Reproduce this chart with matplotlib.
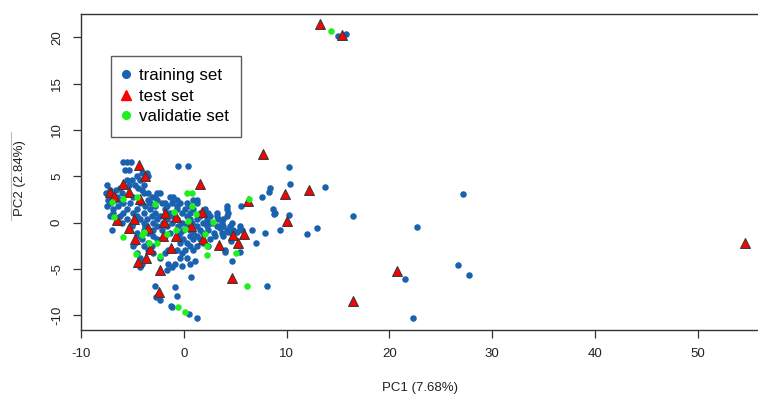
import matplotlib
matplotlib.use("Agg")
import matplotlib.pyplot as plt
from matplotlib.lines import Line2D

plt.rcParams['font.family'] = ['Liberation Sans', 'DejaVu Sans']

# ---------------- data (PC1, PC2) ----------------
train_x = [
    -5.93, -5.48, -5.16,
    -0.52, 0.36,
    10.25,
    -5.71, -5.29,
    -4.09, -3.60,
    -4.57, -3.44,
    -5.54, -5.06, -4.25,
    10.34,
    -7.43, -5.29, -4.73, -3.92,
    8.40, -6.19, -4.41,
    -7.17, -6.58, -4.09,
    8.30,
    -7.56, -6.03, -3.92, -3.44, -2.63, -2.30,
    7.65, -7.00, -6.52, -4.90, -3.11, -2.79, -1.33, -1.01,
    -7.33, -6.68, -6.19, -3.44, -2.63, -1.01, -0.68, 0.94, 1.26,
    -7.17, -5.87, -5.22, -4.25, -3.27, -2.14, -1.82, -1.17, -0.36, 0.29, 1.26,
    -7.49, -6.36, -3.76, -2.79, -1.65, -0.68, 0.62, 4.18, 5.58,
    8.66, -6.84, -5.54, -4.57, -3.27, -1.82, -0.68, 0.13, 0.94, 2.08, 4.18,
    8.88, -6.84, -5.87, -4.90, -3.92, -2.79, -1.33, -0.19, 0.62, 1.59, 2.40, 3.21, 4.29, 8.73,
    10.28,
    -7.17, -6.19, -4.57, -3.11, -2.30, -1.01, 0.29, 1.59, 2.56, 3.21, 4.18,
    -6.52, -5.54, -4.25, -3.60, -2.63, -1.65, -0.68, 0.62, 1.26, 2.24, 3.37, 3.86,
    -6.03, -4.90, -3.92, -2.95, -1.98, -1.17, -0.19, 0.78, 1.91, 2.72, 3.70, 4.67, 2.40,
    -5.06, -3.76, -2.63, -1.65, -0.52, 0.29, 1.26, 2.24, 3.21, 3.86, 4.51, 5.48, 3.54,
    -7.00, -3.92, -2.95, -2.14, -0.03, 0.62, 1.59, 2.40, 4.18, 4.83, 5.64, 6.61, 9.31, 5.42,
    7.94, -4.57, -3.44, -1.33, -0.36, 0.94, 1.91, 2.89, 3.70, 4.67, 4.29, 5.17,
    -4.25, -2.95, -1.82, -0.52, 0.62, 1.26, 3.05, 3.86,
    -4.09, -2.63, -0.03, 0.94, 1.59, 2.56, 4.61,
    7.00, -4.73, -3.44, -0.36, 0.29, 1.91,
    -4.90, -3.92, -3.11, 0.62, 1.26, 2.40,
    3.96, -3.44, -1.49, -0.68, 0.13, 0.94, 5.42, 4.03,
    -4.57, -2.95, -1.82, -0.19,
    -4.25, -2.30, -0.36, 0.29, 1.10,
    4.67,
    -4.09, -1.49, -0.84, 0.62, -0.18,
    -4.25, -1.17, -1.64,
    0.71,
    -2.79, 8.07,
    -0.84,
    -0.62,
    -2.69, -2.30,
    -1.23, -1.18,
    0.47,
    1.26,
    13.75, 12.03, 12.95, 16.45, 22.64, 21.47, 22.25, 27.15, 26.69, 27.76,
    15.00, 15.80,
]
train_y = [
    6.59, 6.59, 6.59,
    6.12, 6.12,
    5.98,
    5.69, 5.69,
    5.33, 5.33,
    5.03, 5.03,
    4.61, 4.61, 4.61,
    4.14,
    4.07, 4.07, 4.07, 4.07,
    3.71, 3.71, 3.71,
    3.53, 3.53, 3.53,
    3.35,
    3.17, 3.17, 3.17, 3.17, 3.17, 3.17,
    2.81, 2.81, 2.81, 2.81, 2.81, 2.81, 2.81, 2.81,
    2.45, 2.45, 2.45, 2.45, 2.45, 2.45, 2.45, 2.45, 2.45,
    2.09, 2.09, 2.09, 2.09, 2.09, 2.09, 2.09, 2.09, 2.09, 2.09, 2.09,
    1.80, 1.80, 1.80, 1.80, 1.80, 1.80, 1.80, 1.80, 1.80,
    1.44, 1.44, 1.44, 1.44, 1.44, 1.44, 1.44, 1.44, 1.44, 1.44, 1.44,
    1.08, 1.08, 1.08, 1.08, 1.08, 1.08, 1.08, 1.08, 1.08, 1.08, 1.08, 1.08, 1.00, 0.93,
    0.83,
    0.72, 0.72, 0.72, 0.72, 0.72, 0.72, 0.72, 0.72, 0.72, 0.72, 0.72,
    0.36, 0.36, 0.36, 0.36, 0.36, 0.36, 0.36, 0.36, 0.36, 0.36, 0.36, 0.36,
    0.00, 0.00, 0.00, 0.00, 0.00, 0.00, 0.00, 0.00, 0.00, 0.00, 0.00, 0.00, 0.00,
    -0.36, -0.36, -0.36, -0.36, -0.36, -0.36, -0.36, -0.36, -0.36, -0.36, -0.36, -0.36, -0.62,
    -0.79, -0.79, -0.79, -0.79, -0.79, -0.79, -0.79, -0.79, -0.79, -0.79, -0.79, -0.79, -0.79, -0.72,
    -1.08, -1.08, -1.08, -1.08, -1.08, -1.08, -1.08, -1.08, -1.08, -1.08, -0.98, -0.98,
    -1.44, -1.44, -1.44, -1.44, -1.44, -1.44, -1.44, -1.44,
    -1.80, -1.80, -1.80, -1.80, -1.80, -1.80, -1.99,
    -2.16, -2.16, -2.16, -2.16, -2.16, -2.16,
    -2.52, -2.52, -2.52, -2.52, -2.52, -2.52,
    -2.95, -2.95, -2.95, -2.95, -2.95, -2.95, -3.14, -3.21,
    -3.31, -3.31, -3.31, -3.31,
    -3.85, -3.85, -3.85, -3.85, -4.20,
    -4.10,
    -4.46, -4.46, -4.46, -4.46, -4.65,
    -4.82, -4.82, -5.12,
    -5.90,
    -6.80, -6.80,
    -7.00,
    -7.88,
    -8.00, -8.36,
    -8.96, -9.08,
    -9.87,
    -10.26,
    3.81, -1.27, -0.55, 0.71, -0.44, -6.09, -10.27, 3.05, -4.61, -5.66,
    20.20, 20.40,
]

test_x = [7.75, -4.34, -3.82, 1.53, -5.87, -7.16, -6.77, -5.31, -4.24, 9.83,
          12.13, 6.20, -6.45, -4.89, -1.81, -0.77, -1.91, 1.79, 0.69, -5.34,
          -3.53, 10.03, -2.03, -0.77, -4.70, 1.86, 4.83, 5.88, 5.29, 3.44,
          -3.27, -1.23, -3.69, -4.50, -2.36, 4.68, -2.42, 13.27, 15.41, 20.73,
          16.45, 54.6]
test_y = [7.41, 6.22, 5.06, 4.14, 4.14, 3.34, 2.90, 3.27, 2.55, 3.06,
          3.52, 2.36, 0.28, 0.36, 1.00, 0.64, 0.10, 1.18, -0.33, -0.62,
          -0.55, 0.21, -1.45, -1.41, -1.80, -1.77, -1.34, -1.23, -2.24, -2.42,
          -2.88, -2.78, -3.79, -4.22, -5.09, -6.02, -7.46, 21.45, 20.26, -5.23,
          -8.43, -2.2]

valid_x = [6.33, 0.30, 0.79, 0.79, 1.18, -2.78, -4.56, -5.92, -6.99, -6.77,
           -1.00, 0.36, 2.83, 2.08, 2.25, 2.25, -0.74, -1.64, 0.14, -3.92,
           -4.08, -2.62, -3.43, -5.92, -4.63, -2.30, 5.07, 6.14, -0.61, 0.07,
           14.34]
valid_y = [2.58, 3.16, 3.16, 1.79, 0.93, 2.01, 2.80, 2.52, 2.26, 0.57,
           1.18, 0.17, 0.03, -1.26, -2.53, -3.50, -0.80, -1.26, -0.72, -0.98,
           -1.34, -2.24, -2.17, -1.52, -3.42, -3.57, -3.32, -6.85, -9.08, -9.62,
           20.69]

series_labels = ["training set", "test set", "validatie set"]
x_ticks = [-10, 0, 10, 20, 30, 40, 50]
y_ticks = [-10, -5, 0, 5, 10, 15, 20]
x_label = "PC1 (7.68%)"
y_label = "PC2 (2.84%)"

BLUE = "#1a62b0"
RED = "#ff0000"
GREEN = "#1ef01e"

W, H = 758, 396
fig = plt.figure(figsize=(W / 100, H / 100), dpi=100)
left_px, right_px, top_px, bot_px = 81, 769.8, 14, 330
ax = fig.add_axes([left_px / W, (H - bot_px) / H, (right_px - left_px) / W, (bot_px - top_px) / H])
ax.set_xlim(-10, 57)
ax.set_ylim(-11.6, 22.53)

ax.scatter(train_x, train_y, s=22, c=BLUE, marker='o', linewidths=0, zorder=2)
ax.scatter(test_x, test_y, s=50, c=RED, marker='^', edgecolors='#3a3a3a', linewidths=0.8, zorder=3)
ax.scatter(valid_x, valid_y, s=22, c=GREEN, marker='o', linewidths=0, zorder=4)

ax.set_xticks(x_ticks)
ax.set_yticks(y_ticks)
ax.set_xticklabels([str(v) for v in x_ticks])
ax.set_yticklabels([str(v) for v in y_ticks], rotation=90, va='center')
ax.tick_params(axis='both', direction='out', length=6, width=0.9, colors='#333333',
               labelsize=9.5, labelcolor='#222222', pad=7)
for sp in ax.spines.values():
    sp.set_linewidth(1.0)
    sp.set_color('#333333')

fig.text(420 / W, 1 - 388 / H, x_label, ha='center', va='center', fontsize=9.5, color='#222222')
fig.text(20 / W, 1 - 178 / H, y_label, ha='center', va='center', rotation=90, fontsize=9.5, color='#222222')
fig.add_artist(Line2D([11 / W, 11 / W], [1 - 132 / H, 1 - 220 / H], color='#bbbbbb', lw=0.8))

handles = [
    Line2D([], [], marker='o', linestyle='none', color=BLUE, markersize=5.5),
    Line2D([], [], marker='^', linestyle='none', color=RED, markersize=6.5),
    Line2D([], [], marker='o', linestyle='none', color=GREEN, markersize=5.5),
]
ax_w = right_px - left_px
ax_h = bot_px - top_px
leg = ax.legend(handles, series_labels, loc='upper left',
                bbox_to_anchor=((111 - left_px) / ax_w, (bot_px - 56) / ax_h),
                borderaxespad=0, frameon=True, fancybox=False, fontsize=12.2,
                handlelength=0.3, handletextpad=0.65,
                labelspacing=0.33, borderpad=0.72)
leg.get_frame().set_edgecolor('#333333')
leg.get_frame().set_linewidth(1.0)

fig.savefig("out.png", dpi=100)
